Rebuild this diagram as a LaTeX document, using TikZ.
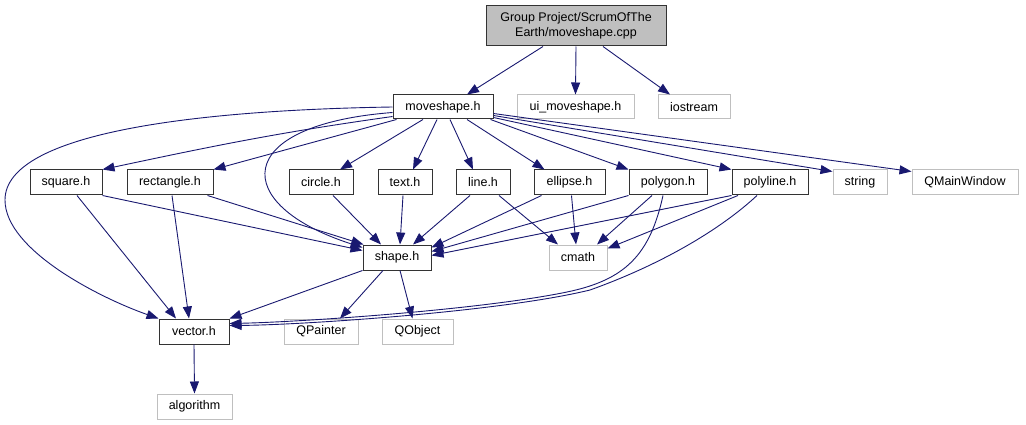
\documentclass[tikz,border=0pt]{standalone}
\usepackage{fontspec}
\setmainfont{Liberation Sans}
\usetikzlibrary{arrows.meta}
\definecolor{edgeblue}{HTML}{191970}
\definecolor{boxgray}{HTML}{BFBFBF}

\begin{document}
\begin{tikzpicture}[x=1pt, y=-1pt, font=\fontsize{12.5}{15}\selectfont,
  hdr/.style={draw=black!80, line width=1pt, minimum height=25pt, inner sep=0pt},
  ext/.style={draw=boxgray, line width=1pt, minimum height=25pt, inner sep=0pt},
  dep/.style={-{Triangle[length=12pt, width=9pt]}, draw=edgeblue, line width=0.9pt}]
  \useasboundingbox (0,0) rectangle (1026,425);
  % top row
  \node[hdr, fill=boxgray, minimum width=180pt, minimum height=40pt, align=center] (cpp) at (576,26) {Group Project/ScrumOfThe\\Earth/moveshape.cpp};
  \node[hdr, minimum width=100pt, minimum height=24pt] (ms) at (443,107) {moveshape.h};
  \node[ext, minimum width=117pt, minimum height=24pt] (ui) at (575.5,107) {ui\_moveshape.h};
  \node[ext, minimum width=72pt, minimum height=24pt] (ios) at (694,107) {iostream};
  % second row
  \node[hdr, minimum width=72pt] (sq) at (66,182.5) {square.h};
  \node[hdr, minimum width=86pt] (rect) at (170,182.5) {rectangle.h};
  \node[hdr, minimum width=64pt] (circ) at (321,182.5) {circle.h};
  \node[hdr, minimum width=54pt] (txt) at (405,182.5) {text.h};
  \node[hdr, minimum width=54pt] (ln) at (483,182.5) {line.h};
  \node[hdr, minimum width=71pt] (ell) at (569.5,182.5) {ellipse.h};
  \node[hdr, minimum width=78pt] (poly) at (668,182.5) {polygon.h};
  \node[hdr, minimum width=76pt] (pline) at (770,182.5) {polyline.h};
  \node[ext, minimum width=54pt] (str) at (860,182.5) {string};
  \node[ext, minimum width=106pt] (qmw) at (965,182.5) {QMainWindow};
  % lower rows
  \node[hdr, minimum width=68pt] (shape) at (397,257.5) {shape.h};
  \node[ext, minimum width=58pt] (cmath) at (578,257.5) {cmath};
  \node[hdr, minimum width=70pt] (vec) at (194,331.5) {vector.h};
  \node[ext, minimum width=74pt] (qp) at (321,331.5) {QPainter};
  \node[ext, minimum width=71pt] (qo) at (417.5,331.5) {QObject};
  \node[ext, minimum width=75pt] (alg) at (194.5,406.5) {algorithm};

  \draw[dep] ([xshift=-33pt]cpp.south) -- ([xshift=24pt]ms.north);
  \draw[dep] (cpp.south) -- (ui.north);
  \draw[dep] ([xshift=27pt]cpp.south) -- ([xshift=-24pt]ios.north);

  \draw[dep] ([yshift=3pt]ms.south west) to[out=188, in=12] (sq.north east);
  \draw[dep] ([xshift=4pt]ms.south west) -- (rect.north east);
  \draw[dep] ([xshift=-20pt]ms.south) -- ([xshift=19pt]circ.north);
  \draw[dep] ([xshift=-6pt]ms.south) -- ([xshift=8pt]txt.north);
  \draw[dep] ([xshift=7pt]ms.south) -- ([xshift=-10pt]ln.north);
  \draw[dep] ([xshift=24pt]ms.south) -- ([xshift=-25pt]ell.north);
  \draw[dep] ([xshift=-3pt]ms.south east) -- (poly.north west);
  \draw[dep] ([yshift=2pt]ms.south east) -- (pline.north west);
  \draw[dep] ([yshift=4pt]ms.south east) -- ([yshift=-2pt]str.north west);
  \draw[dep] ([yshift=6pt]ms.south east) -- ([yshift=-2pt]qmw.north west);
  \draw[dep] ([yshift=7pt]ms.south west) .. controls (230,125) and (230,205) .. ([yshift=-3pt]shape.north west);
  \draw[dep] (ms.west) .. controls (200,110) and (5,132) .. (5,200) .. controls (5,250) and (100,298) .. (vec.north west);

  \draw[dep] (sq.south east) -- ([yshift=-6pt]shape.north west);
  \draw[dep] ([xshift=11pt]sq.south) -- ([xshift=-18pt]vec.north);
  \draw[dep] ([xshift=2pt]rect.south) -- ([xshift=-5pt]vec.north);
  \draw[dep] ([xshift=-6pt]rect.south east) -- ([xshift=1pt]shape.north west);
  \draw[dep] ([xshift=12pt]circ.south) -- ([xshift=-16pt]shape.north);
  \draw[dep] ([xshift=-2pt]txt.south) -- ([xshift=3pt]shape.north);
  \draw[dep] ([xshift=-13pt]ln.south) -- ([xshift=16pt]shape.north);
  \draw[dep] ([xshift=16pt]ln.south) -- ([xshift=-20pt]cmath.north);
  \draw[dep] ([xshift=-28pt]ell.south) -- ([yshift=-3pt]shape.north east);
  \draw[dep] ([xshift=2pt]ell.south) -- ([xshift=-2pt]cmath.north);
  \draw[dep] (poly.south west) -- ([yshift=-7pt]shape.north east);
  \draw[dep] ([xshift=-16pt]poly.south) -- ([xshift=19pt]cmath.north);
  \draw[dep] ([xshift=-5pt]poly.south) .. controls (650,255) and (625,280) .. (567,292) .. controls (480,310) and (300,322) .. ([yshift=-5pt]vec.north east);
  \draw[dep] (pline.south west) -- ([yshift=-11pt]shape.north east);
  \draw[dep] ([xshift=-32pt]pline.south) -- ([yshift=-4pt]cmath.north east);
  \draw[dep] ([xshift=-13pt]pline.south) .. controls (720,230) and (660,265) .. (590,290) .. controls (500,312) and (300,325) .. ([yshift=-7pt]vec.north east);

  \draw[dep] (shape.south west) -- (vec.north east);
  \draw[dep] ([xshift=-14pt]shape.south) -- ([xshift=19pt]qp.north);
  \draw[dep] ([xshift=3pt]shape.south) -- ([xshift=-5pt]qo.north);
  \draw[dep] (vec.south) -- (alg.north);
\end{tikzpicture}
\end{document}
